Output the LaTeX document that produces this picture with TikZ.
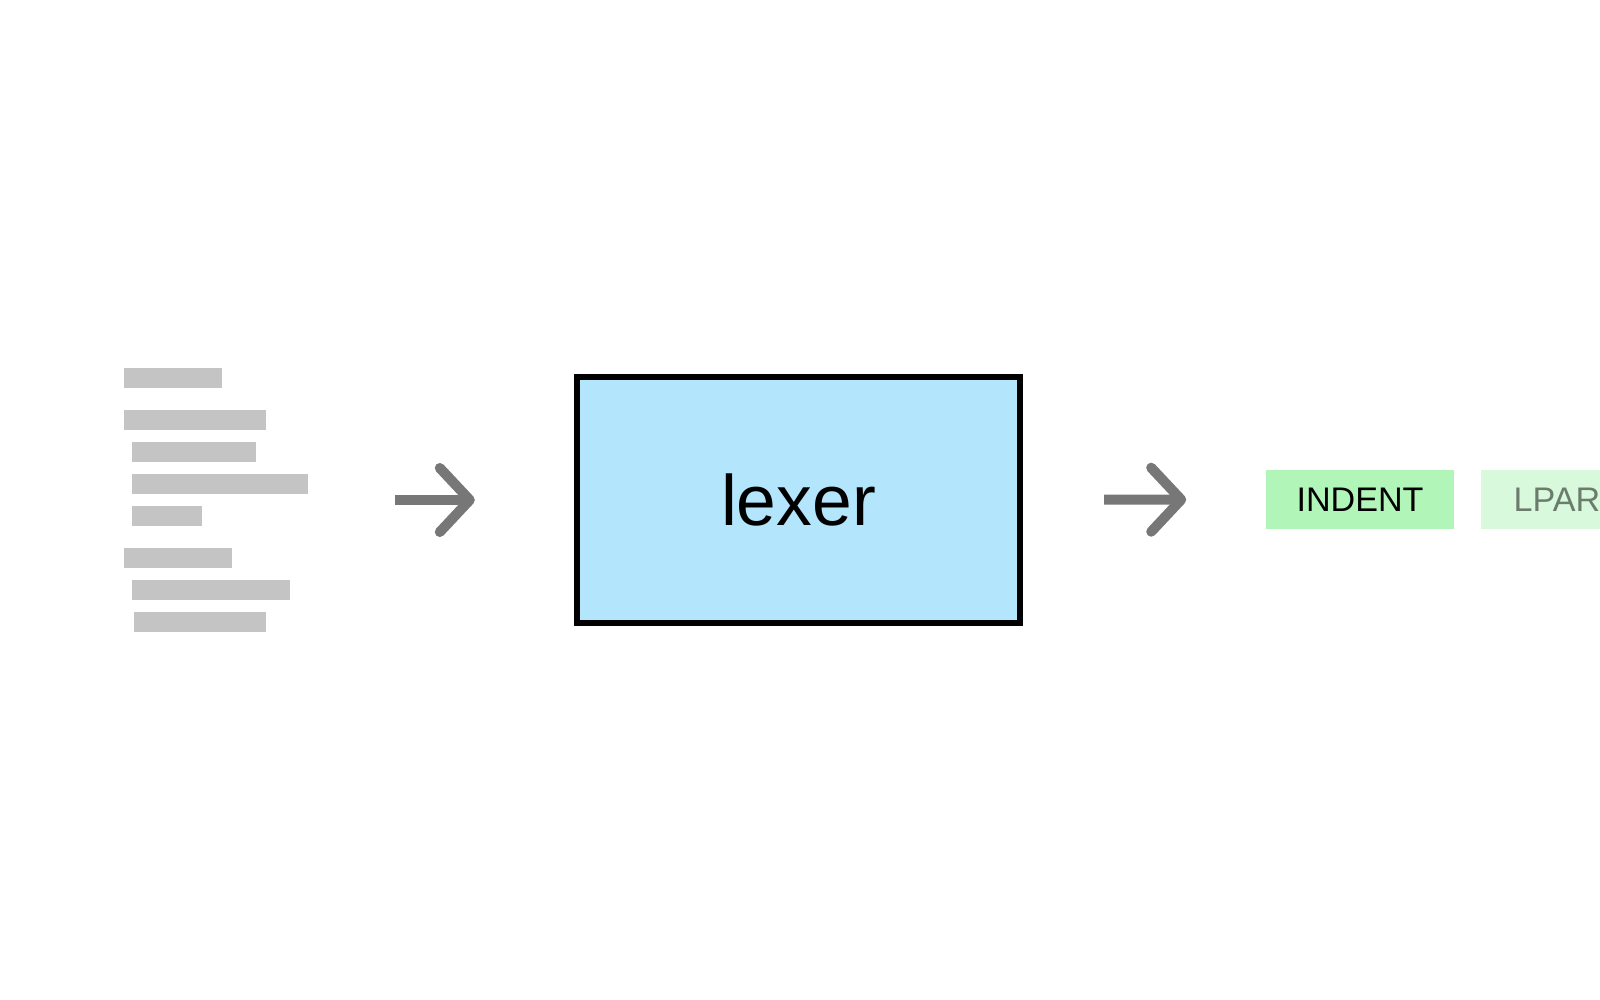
\documentclass[tikz,border=0pt]{standalone}
\usepackage{fontspec}
\setmainfont{Liberation Sans}
\usetikzlibrary{arrows.meta,positioning}
\definecolor{barGray}{HTML}{C4C4C4}
\definecolor{arrowGray}{HTML}{777777}
\definecolor{lexBlue}{HTML}{B3E5FC}
\definecolor{tokGreen}{HTML}{B2F5B8}

\begin{document}
\begin{tikzpicture}[x=0.01cm,y=-0.01cm,
		flow/.style={draw=arrowGray,line width=0.1cm,-{Straight Barb[length=0.3cm,width=0.64cm,round]}},
		box node/.style={rectangle,draw=black,line width=0.06cm,fill=lexBlue,minimum width=4.43cm,minimum height=2.46cm,font=\fontsize{20.3}{24}\selectfont},
		token node/.style={rectangle,fill=tokGreen,inner sep=0pt,minimum height=0.59cm,font=\fontsize{9.7}{12}\selectfont}]
		% Seitenrand
		\useasboundingbox (0,0) rectangle (1600,1000);
		\clip (0,0) rectangle (1600,1000);
		\fill[white] (0,0) rectangle (1600,1000);
		
		% Quelltext als graue Zeilen
		\foreach \x/\y/\w in {124/368/98, 124/410/142, 132/442/124, 132/474/176, 132/506/70, 124/548/108, 132/580/158, 134/612/132}
			\fill[barGray] (\x,\y) rectangle ++(\w,19.5);
		\node[inner sep=0pt,minimum width=1.84cm,minimum height=2.64cm] (src) at (216,500) {};
		
		\node[box node] (lexer) at (798.5,500) {lexer};
		\node[token node,minimum width=1.88cm] (indent) at (1360,499.5) {INDENT};
		\node[token node,opacity=0.5,minimum width=1.98cm] (lparen) [right=0.26cm of indent] {LPAREN};
		
		\path[flow]
		(src) edge [shorten <=0.86cm,shorten >=0.99cm] (lexer)
		(lexer) edge [shorten <=0.81cm,shorten >=0.79cm] (indent);
\end{tikzpicture}
\end{document}
